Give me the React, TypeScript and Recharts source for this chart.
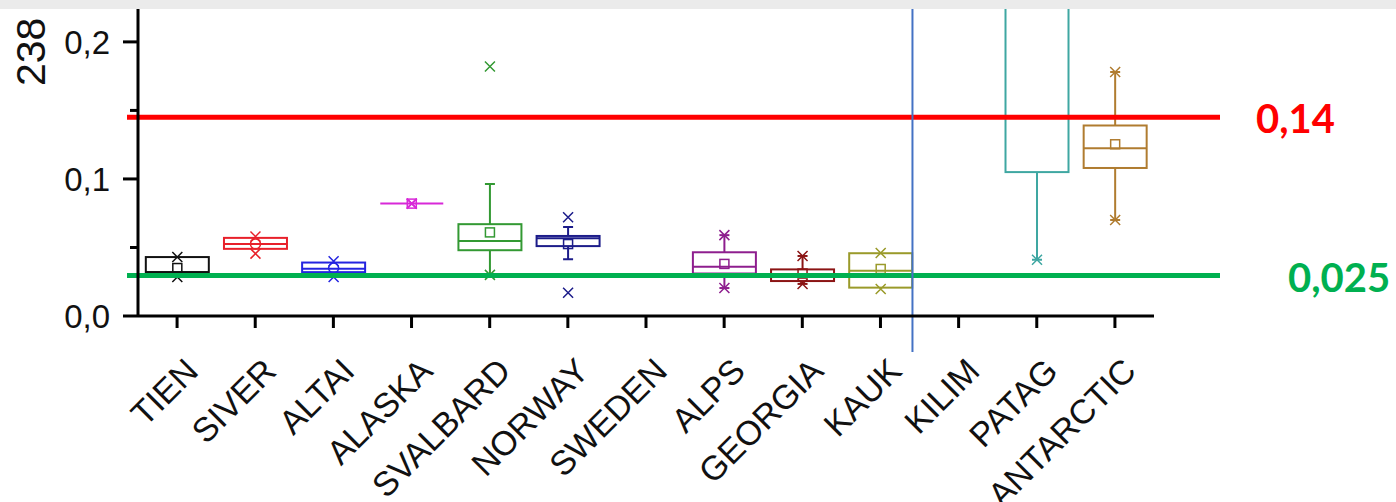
import React from 'react';
import { ComposedChart, Bar, XAxis, YAxis, ReferenceLine, Label } from 'recharts';

// categories along the x axis
const categories = ['TIEN', 'SIVER', 'ALTAI', 'ALASKA', 'SVALBARD', 'NORWAY', 'SWEDEN', 'ALPS', 'GEORGIA', 'KAUK', 'KILIM', 'PATAG', 'ANTARCTIC'];

// box statistics (null = no data)
const q1Values = [0.032, 0.049, 0.032, 0.082, 0.048, 0.051, null, 0.031, 0.0255, 0.0207, null, 0.105, 0.108];
const medianValues = [0.032, 0.0525, 0.0345, 0.082, 0.0547, 0.0567, null, 0.036, 0.029, 0.033, null, 0.26, 0.1224];
const q3Values = [0.043, 0.057, 0.039, 0.082, 0.067, 0.0584, null, 0.0465, 0.034, 0.0458, null, 0.34, 0.139];
const meanValues = [0.035, 0.0525, 0.035, 0.082, 0.061, 0.0525, null, 0.038, 0.031, 0.0343, null, 0.27, 0.1253];
const whiskerLowValues = [0.032, 0.049, 0.032, 0.082, 0.030, 0.0414, null, 0.0204, 0.0234, 0.0207, null, 0.041, 0.070];
const whiskerHighValues = [0.043, 0.057, 0.039, 0.082, 0.0963, 0.065, null, 0.059, 0.0438, 0.0458, null, 0.45, 0.178];
const minValues = [0.0285, 0.0455, 0.0285, 0.082, 0.030, 0.017, null, 0.0204, 0.0234, 0.0197, null, 0.041, 0.070];
const maxValues = [0.043, 0.058, 0.040, 0.082, 0.182, 0.072, null, 0.059, 0.0438, 0.046, null, 0.47, 0.178];

const boxColors = ['#111111', '#e8202a', '#2424e0', '#d829d8', '#339933', '#1c1c8a', '#000000', '#8e1e8e', '#8b1414', '#9a9a2a', '#000000', '#3fa7a2', '#b07c30'];
const meanShapes = ['square', 'circle', 'circle', 'square', 'square', 'square', 'square', 'square', 'square', 'square', 'square', 'square', 'square'];

const yTicks = [0, 0.05, 0.1, 0.15, 0.2];
const Y_TOP = 0.224;
const RED_LIMIT = 0.145;
const GREEN_LIMIT = 0.0295;

const FONT = '"Liberation Sans", Arial, sans-serif';
const BOLD_FONT = 'Lato, "Open Sans", sans-serif';

const data = categories.map((name, i) => ({
  name,
  q1: q1Values[i],
  median: medianValues[i],
  q3: q3Values[i],
  mean: meanValues[i],
  whiskerLow: whiskerLowValues[i],
  whiskerHigh: whiskerHighValues[i],
  min: minValues[i],
  max: maxValues[i],
  color: boxColors[i],
  meanShape: meanShapes[i],
  frame: [0, Y_TOP],
}));

const BoxShape = (props: any) => {
  const { x, y, width, height, index } = props;
  const d = props.payload && props.payload.name ? props.payload : data[index];
  if (!d || d.q1 == null) return <g />;
  // linear map from the frame bar (0..Y_TOP) that recharts positioned for us
  const py = (v: number) => y + height * (1 - v / Y_TOP);
  const cx = x + width / 2;
  const c = d.color;
  const top = py(d.q3);
  const bottom = py(d.q1);
  const wHi = py(d.whiskerHigh);
  const wLo = py(d.whiskerLow);
  const clipId = `box-clip-${index}`;
  const cross = (v: number, k: string) => {
    const yy = py(v);
    return (
      <path
        key={k}
        d={`M${cx - 5},${yy - 5}L${cx + 5},${yy + 5}M${cx + 5},${yy - 5}L${cx - 5},${yy + 5}`}
        stroke={c}
        strokeWidth={1.5}
        fill="none"
      />
    );
  };
  const my = py(d.mean);
  return (
    <g>
      <defs>
        <clipPath id={clipId}>
          <rect x={x - 20} y={y} width={width + 40} height={height + 40} />
        </clipPath>
      </defs>
      <g clipPath={`url(#${clipId})`}>
        {top - wHi > 1 && (
          <g>
            <line x1={cx} x2={cx} y1={top} y2={wHi} stroke={c} strokeWidth={2} />
            <line x1={cx - 5} x2={cx + 5} y1={wHi} y2={wHi} stroke={c} strokeWidth={2} />
          </g>
        )}
        {wLo - bottom > 1 && (
          <g>
            <line x1={cx} x2={cx} y1={bottom} y2={wLo} stroke={c} strokeWidth={2} />
            <line x1={cx - 5} x2={cx + 5} y1={wLo} y2={wLo} stroke={c} strokeWidth={2} />
          </g>
        )}
        <rect x={x} y={top} width={width} height={Math.max(bottom - top, 0)} fill="none" stroke={c} strokeWidth={2} />
        <line x1={x} x2={x + width} y1={py(d.median)} y2={py(d.median)} stroke={c} strokeWidth={2} />
        {d.meanShape === 'circle' ? (
          <circle cx={cx} cy={my} r={5} fill="none" stroke={c} strokeWidth={1.5} />
        ) : (
          <rect x={cx - 4.5} y={my - 4.5} width={9} height={9} fill="none" stroke={c} strokeWidth={1.5} />
        )}
        {cross(d.min, 'min')}
        {cross(d.max, 'max')}
      </g>
    </g>
  );
};

const XTick = (props: any) => {
  const { x, y, payload } = props;
  const ax = x + 23;
  const ay = y + 45;
  return (
    <text x={ax} y={ay} transform={`rotate(-45 ${ax} ${ay})`} textAnchor="end" fontSize={34} fontFamily={FONT} fill="#111">
      {payload.value}
    </text>
  );
};

const YTick = (props: any) => {
  const { x, y, payload } = props;
  const v = payload.value as number;
  const major = Math.abs(v * 10 - Math.round(v * 10)) < 1e-6;
  return (
    <g>
      <line x1={x + (major ? 13 : 20)} x2={x + 28} y1={y} y2={y} stroke="#000" strokeWidth={3} />
      {major && (
        <text x={x} y={y} dy={12} textAnchor="end" fontSize={33} fontFamily={FONT} fill="#111">
          {v.toFixed(1).replace('.', ',')}
        </text>
      )}
    </g>
  );
};

const limitLine = (color: string, text: string, textOffset: number) => (p: any) => (
  <g>
    <line x1={p.x1 - 11} x2={p.x2 + 66} y1={p.y1} y2={p.y2} stroke={color} strokeWidth={5} />
    <text x={p.x2 + textOffset} y={p.y1 + 16} fill={color} fontSize={40} fontWeight={700} fontFamily={BOLD_FONT}>
      {text}
    </text>
  </g>
);

const dividerLine = (p: any) => {
  const yTop = Math.min(p.y1, p.y2);
  const yBottom = Math.max(p.y1, p.y2);
  return <line x1={p.x1 + 32} x2={p.x2 + 32} y1={yTop} y2={yBottom + 36} stroke="#4472c4" strokeWidth={2} />;
};

export default function App() {
  return (
    <div style={{ position: 'absolute', left: 0, top: 0, width: 1396, height: 502, background: '#fff', overflow: 'hidden' }}>
      <ComposedChart width={1396} height={502} data={data} margin={{ top: 9, right: 242, bottom: 0, left: 0 }} barCategoryGap="10%">
        <XAxis
          dataKey="name"
          height={186}
          interval={0}
          tickSize={12}
          tickMargin={0}
          tick={<XTick />}
          axisLine={{ stroke: '#000', strokeWidth: 3 }}
          tickLine={{ stroke: '#000', strokeWidth: 3 }}
        />
        <YAxis
          width={138}
          domain={[0, Y_TOP]}
          allowDataOverflow
          ticks={yTicks}
          interval={0}
          tickSize={15}
          tickMargin={13}
          tick={<YTick />}
          tickLine={false}
          axisLine={{ stroke: '#000', strokeWidth: 3 }}
        >
          <Label
            content={(p: any) => {
              const vb = p.viewBox || { x: 0, y: 9 };
              const lx = vb.x + 45;
              const ly = vb.y + 77;
              return (
                <text x={lx} y={ly} transform={`rotate(-90 ${lx} ${ly})`} fontSize={41} fontFamily={FONT} fill="#111">
                  238
                </text>
              );
            }}
          />
        </YAxis>
        <Bar dataKey="frame" shape={BoxShape} isAnimationActive={false} />
        <ReferenceLine y={RED_LIMIT} shape={limitLine('#ff0000', '0,14', 102)} />
        <ReferenceLine y={GREEN_LIMIT} shape={limitLine('#00b050', '0,025', 134)} />
        <ReferenceLine x="KAUK" shape={dividerLine} />
      </ComposedChart>
      <div style={{ position: 'absolute', left: 0, top: 0, width: 1396, height: 9, background: '#ebebeb' }} />
    </div>
  );
}
